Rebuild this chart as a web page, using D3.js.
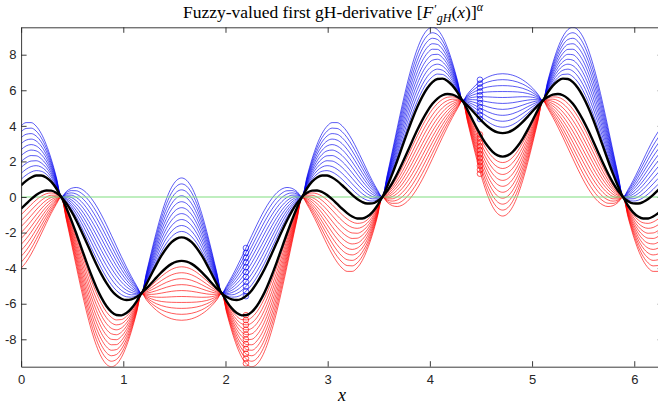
<!DOCTYPE html>
<html><head><meta charset="utf-8">
<script src="https://cdn.jsdelivr.net/npm/d3@7"></script>
<style>html,body{margin:0;padding:0;background:#fff;} svg{display:block}</style>
</head><body>
<script>
// sample positions along x (0 .. 2π)
const xSamples = [0,0.0491,0.0982,0.1473,0.1963,0.2454,0.2945,0.3436,0.3927,0.4418,0.4909,0.5400,0.5890,0.6381,0.6872,0.7363,
0.7854,0.8345,0.8836,0.9327,0.9817,1.0308,1.0799,1.1290,1.1781,1.2272,1.2763,1.3254,1.3744,1.4235,1.4726,1.5217,
1.5708,1.6199,1.6690,1.7181,1.7671,1.8162,1.8653,1.9144,1.9635,2.0126,2.0617,2.1108,2.1598,2.2089,2.2580,2.3071,
2.3562,2.4053,2.4544,2.5035,2.5525,2.6016,2.6507,2.6998,2.7489,2.7980,2.8471,2.8962,2.9452,2.9943,3.0434,3.0925,
3.1416,3.1907,3.2398,3.2889,3.3379,3.3870,3.4361,3.4852,3.5343,3.5834,3.6325,3.6816,3.7306,3.7797,3.8288,3.8779,
3.9270,3.9761,4.0252,4.0743,4.1233,4.1724,4.2215,4.2706,4.3197,4.3688,4.4179,4.4670,4.5160,4.5651,4.6142,4.6633,
4.7124,4.7615,4.8106,4.8597,4.9087,4.9578,5.0069,5.0560,5.1051,5.1542,5.2033,5.2524,5.3014,5.3505,5.3996,5.4487,
5.4978,5.5469,5.5960,5.6451,5.6941,5.7432,5.7923,5.8414,5.8905,5.9396,5.9887,6.0378,6.0868,6.1359,6.1850,6.2341,6.2832];

// centre curve of the fuzzy derivative (midpoint of the core), read at each sample
const centerValues = [0,0.258,0.486,0.657,0.746,0.734,0.609,0.363,0,-0.475,-1.044,-1.686,-2.374,-3.080,-3.773,-4.422,
-4.999,-5.480,-5.846,-6.084,-6.188,-6.160,-6.010,-5.753,-5.412,-5.012,-4.582,-4.153,-3.754,-3.412,-3.150,-2.986,
-2.930,-2.986,-3.150,-3.412,-3.754,-4.153,-4.582,-5.012,-5.412,-5.753,-6.010,-6.160,-6.188,-6.084,-5.846,-5.480,
-4.999,-4.422,-3.773,-3.080,-2.374,-1.686,-1.044,-0.475,0,0.363,0.609,0.734,0.746,0.657,0.486,0.258,
0,-0.258,-0.486,-0.657,-0.746,-0.734,-0.609,-0.363,0,0.475,1.044,1.686,2.374,3.080,3.773,4.422,
4.999,5.480,5.846,6.084,6.188,6.160,6.010,5.753,5.412,5.012,4.582,4.153,3.754,3.412,3.150,2.986,
2.930,2.986,3.150,3.412,3.754,4.153,4.582,5.012,5.412,5.753,6.010,6.160,6.188,6.084,5.846,5.480,
4.999,4.422,3.773,3.080,2.374,1.686,1.044,0.475,0,-0.363,-0.609,-0.734,-0.746,-0.657,-0.486,-0.258,0];

// relative width of the fuzzy band at each sample (0 where all curves meet)
const spreadShape = [1,0.9808,0.9239,0.8315,0.7071,0.5556,0.3827,0.1951,0,0.1951,0.3827,0.5556,0.7071,0.8315,0.9239,0.9808,
1,0.9808,0.9239,0.8315,0.7071,0.5556,0.3827,0.1951,0,0.1951,0.3827,0.5556,0.7071,0.8315,0.9239,0.9808,
1,0.9808,0.9239,0.8315,0.7071,0.5556,0.3827,0.1951,0,0.1951,0.3827,0.5556,0.7071,0.8315,0.9239,0.9808,
1,0.9808,0.9239,0.8315,0.7071,0.5556,0.3827,0.1951,0,0.1951,0.3827,0.5556,0.7071,0.8315,0.9239,0.9808,
1,0.9808,0.9239,0.8315,0.7071,0.5556,0.3827,0.1951,0,0.1951,0.3827,0.5556,0.7071,0.8315,0.9239,0.9808,
1,0.9808,0.9239,0.8315,0.7071,0.5556,0.3827,0.1951,0,0.1951,0.3827,0.5556,0.7071,0.8315,0.9239,0.9808,
1,0.9808,0.9239,0.8315,0.7071,0.5556,0.3827,0.1951,0,0.1951,0.3827,0.5556,0.7071,0.8315,0.9239,0.9808,
1,0.9808,0.9239,0.8315,0.7071,0.5556,0.3827,0.1951,0,0.1951,0.3827,0.5556,0.7071,0.8315,0.9239,0.9808,1];

// α levels and the half-width of the α-cut at each level (α = 1 is the black core)
const alphaLevels = [0,0.1,0.2,0.3,0.4,0.5,0.6,0.7,0.8,0.9,1];
const alphaHalfWidths = [4.0,3.666,3.332,2.998,2.664,2.33,1.996,1.662,1.328,0.994,0.66];

// marked points (circles)
const markerX = [2.2, 4.49];
const markerCenter = [-6.11, 3.95];
const markerSpread = [0.811, 0.66];

const xTicks = [0,1,2,3,4,5,6];
const yTicks = [-8,-6,-4,-2,0,2,4,6,8];
const xLimits = [0, 6.2832];
const yLimits = [-9.54, 9.54];

const W = 658, H = 405;
const L = 21.1, R = 663.2, T = 27.3, B = 366.7;

const svg = d3.select("body").append("svg").attr("width", W).attr("height", H)
  .style("background", "#fff");

const x = d3.scaleLinear().domain(xLimits).range([L, R]);
const y = d3.scaleLinear().domain(yLimits).range([B, T]);

svg.append("defs").append("clipPath").attr("id", "clip")
  .append("rect").attr("x", L).attr("y", T).attr("width", R - L).attr("height", B - T);

const plot = svg.append("g").attr("clip-path", "url(#clip)");

const line = d3.line().x(d => x(d[0])).y(d => y(d[1])).curve(d3.curveMonotoneX);

function curve(sign, w) {
  return xSamples.map((xv, i) => [xv, centerValues[i] + sign * w * spreadShape[i]]);
}

// colored α-cut endpoint curves
alphaHalfWidths.forEach((w, j) => {
  if (alphaLevels[j] === 1) return;
  plot.append("path").attr("d", line(curve(1, w)))
    .attr("fill", "none").attr("stroke", "#0000ee").attr("stroke-width", 0.65);
  plot.append("path").attr("d", line(curve(-1, w)))
    .attr("fill", "none").attr("stroke", "#ff0000").attr("stroke-width", 0.65);
});

// circles at marked x
markerX.forEach((mx, m) => {
  alphaHalfWidths.forEach(w => {
    plot.append("circle").attr("cx", x(mx)).attr("cy", y(markerCenter[m] + w * markerSpread[m]))
      .attr("r", 2.8).attr("fill", "none").attr("stroke", "#0000ee").attr("stroke-width", 0.65);
    plot.append("circle").attr("cx", x(mx)).attr("cy", y(markerCenter[m] - w * markerSpread[m]))
      .attr("r", 2.8).attr("fill", "none").attr("stroke", "#ff0000").attr("stroke-width", 0.65);
  });
});

// zero line
plot.append("path").attr("d", d3.line()([[x(xLimits[0]), y(0)], [x(xLimits[1]), y(0)]]))
  .attr("stroke", "#80dd80").attr("stroke-width", 1.2).attr("fill", "none");

// core (α = 1) in black
const coreW = alphaHalfWidths[alphaLevels.indexOf(1)];
[1, -1].forEach(s => {
  plot.append("path").attr("d", line(curve(s, coreW)))
    .attr("fill", "none").attr("stroke", "#000").attr("stroke-width", 2.4);
});

// axes box & ticks (MATLAB style, inward ticks)
const axColor = "#262626";
const gx = svg.append("g").attr("transform", `translate(0,${B})`)
  .call(d3.axisBottom(x).tickValues(xTicks).tickSizeInner(-5.5).tickSizeOuter(0).tickPadding(8.5).tickFormat(d3.format("d")));
const gxt = svg.append("g").attr("transform", `translate(0,${T})`)
  .call(d3.axisTop(x).tickValues(xTicks).tickSizeInner(-5.5).tickSizeOuter(0).tickFormat(""));
const gy = svg.append("g").attr("transform", `translate(${L},0)`)
  .call(d3.axisLeft(y).tickValues(yTicks).tickSizeInner(-5.5).tickSizeOuter(0).tickPadding(4.5).tickFormat(d3.format("d")));
const gyr = svg.append("g").attr("transform", `translate(${R},0)`)
  .call(d3.axisRight(y).tickValues(yTicks).tickSizeInner(-5.5).tickSizeOuter(0).tickFormat(""));

[gx, gxt, gy, gyr].forEach(g => {
  g.select(".domain").attr("stroke", axColor).attr("stroke-width", 0.9);
  g.selectAll(".tick line").attr("stroke", axColor).attr("stroke-width", 0.9);
  g.selectAll(".tick text").attr("fill", axColor)
    .style("font-family", "'Liberation Sans', Arial, sans-serif").style("font-size", "13px");
});
gy.selectAll(".tick text").text(d => d < 0 ? "-" + Math.abs(d) : d);

// title
const title = svg.append("text").attr("x", 333).attr("y", 18.3).attr("text-anchor", "middle")
  .style("font-family", "'Liberation Serif', 'DejaVu Serif', serif").style("font-size", "17.5px").attr("fill", "#000");
title.append("tspan").text("Fuzzy-valued first gH-derivative [");
title.append("tspan").style("font-style", "italic").text("F");
title.append("tspan").attr("dx", 1).attr("dy", -5).style("font-size", "12px").text("\u2032");
title.append("tspan").attr("dy", 9).style("font-style", "italic").style("font-size", "12px").text("gH");
title.append("tspan").attr("dy", -4).text("(");
title.append("tspan").style("font-style", "italic").text("x");
title.append("tspan").text(")]");
title.append("tspan").attr("dy", -7).style("font-style", "italic").style("font-size", "12px").text("\u03B1");

// x label
svg.append("text").attr("x", 342).attr("y", 400.5).attr("text-anchor", "middle")
  .style("font-family", "'Liberation Serif', 'DejaVu Serif', serif").style("font-size", "18px")
  .style("font-style", "italic").text("x");
</script>
</body></html>
